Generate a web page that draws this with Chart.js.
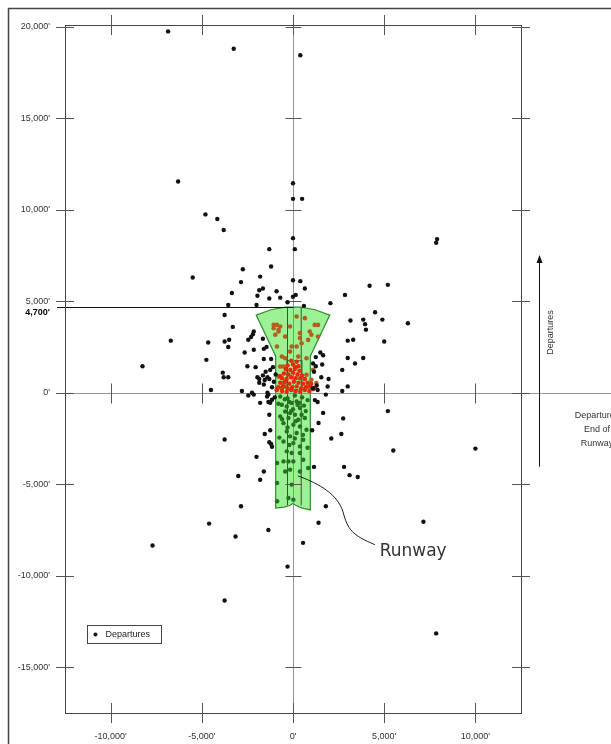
<!DOCTYPE html>
<html>
<head>
<meta charset="utf-8">
<script src="https://cdn.jsdelivr.net/npm/chart.js@4.4.0/dist/chart.umd.min.js"></script>
<style>
html, body { margin: 0; padding: 0; background: #fff; }
canvas { display: block; }
</style>
</head>
<body>
<canvas id="departuresChart" width="611" height="744"></canvas>
<script>
// tick labels (feet)
var xTickValues = [-10000, -5000, 0, 5000, 10000];
var yTickValues = [-15000, -10000, -5000, 0, 5000, 10000, 15000, 20000];
var markerValue = 4700;

// departures (black dots), feet from the runway end
var departuresX = [
    -6850, -3250, 400, -6300, 0, 0, 500, -4800, -4150, -3800,
    0, -1300, 100, -5500, -2750, -1200, -2850, -1800, 0, 400,
    -3350, -1850, -1650, -900, 650, -1950, -1300, -700, -300, 0, 150, 600,
    -3550, -2000, 2050, 2850, 4200, 5200, 7850, 7900,
    -3750, -3300, -6700, -4650, -3750, -3500, -3550,
    -2450, -2300, -2200, -2150, -1650, -1450, -1600, -2150, -2650,
    -1600, -1200, -8250, -4750, -2500, -2050, -3850, -3800, -3550,
    -1950, -1850, -1650, -1550, -1400, -1300, -1850, -1600,
    -4500, -2800, -2450, -2150, -1400, -1350, -1800, -1350, -1250, -1300, -1100, -950,
    4500, 3150, 3850, 3950, 4000, 4900, 6300, 3000, 3300, 5000, 3000, 3850, 3400, 2700,
    1500, 1650, 1250, 1600, 1100, 1550, 1950, 1300, 1350, 2700, 1800, 1350, 1650, 5200, 2750,
    1400, -3750, -1550, -1250, -1300, -1200, -1150, 1050, 2650, 2100, 5500, -2000, -1600, -1800, -3000,
    1150, 2800, 3100, 3550, -2850, 1800, -4600, -3150,
    -1350, 1400, 550, 7150, -7700, -300, -3750, 7850, 10000,
    -2250, -1420, -1150, 1200, 1900, 3000,
    -1250, -1050, -1500, -1150, 1150, 1250, -1000, 1100
];
var departuresY = [
    19750, 18800, 18450, 11550, 11450, 10600, 10600, 9750, 9500, 8900,
    8450, 7850, 7850, 6300, 6750, 6900, 6050, 6350, 6150, 6100,
    5450, 5600, 5700, 5550, 5700, 5300, 5150, 5200, 4950, 5250, 5350, 4750,
    4800, 4800, 4900, 5350, 5850, 5900, 8200, 8400,
    4250, 3600, 2850, 2750, 2800, 2900, 2500,
    2900, 3050, 3200, 3350, 2950, 2500, 2400, 2350, 2200,
    1850, 1850, 1450, 1800, 1450, 1400, 1100, 850, 850,
    850, 750, 950, 700, 850, 750, 550, 450,
    150, 100, -150, -100, 0, -100, -550, -500, -550, -1200, 1400, 1000,
    4400, 3950, 4000, 3750, 3450, 4000, 3800, 2850, 2900, 2800, 1900, 1900, 1600, 1250,
    2200, 2050, 1950, 1550, 1600, 850, 750, 400, 150, 100, -100, -500, -1100, -1000, -1400,
    -1650, -2550, -2250, -2050, -2700, -2800, -2950, -2050, -2250, -2500, -3150, -3500, -4300, -4750, -4550,
    -4050, -4050, -4500, -4600, -6200, -6200, -7150, -7850,
    -7500, -7100, -8200, -7050, -8350, -9500, -11350, -13150, -3050,
    0, -200, -380, -400, 340, 350,
    1250, 600, 1150, 300, 1150, 1450, -250, 250
];

// departures inside the runway zone (dark green)
var zoneDepX = [
    -610, -340, -70, 200, 380, -430, -160, 110, 470, -700, -250, 290, 650, -520, 20, 380, 740,
    -340, 200, -160, 560, -520, 20, 380, -340, -70, 380, -520, -250, 20, 560, -870,
    -430, -160, 380, 830, -870, -70, -250, 20, -870,
    -700, -300, 100, 500, 800, -800, 0, 600, -200, 350, -450, 250, -100, 700,
    -600, 150, -300, 550, -750, 100, 800, -200
];
var zoneDepY = [
    -655, -750, -560, -475, -835, -1020, -1110, -1200, -1200, -1290, -1380, -1470, -1380, -1660, -1750, -1840, -2020,
    -2110, -2200, -2380, -2570, -2660, -2750, -2930, -3200, -3290, -3290, -3750, -3750, -3750, -3660, -3840,
    -4300, -4200, -4300, -4110, -4930, -5020, -5750, -5840, -5930,
    -200, -300, -150, -250, -400, -600, -900, -700, -500, -550, -350, -650, -1000, -1000,
    -1450, -1550, -1900, -2300, -2450, -2500, -3000, -2850
];

// departures near the runway end (red)
var endDepX = [
    -100, 200, -300, 0, 300, 150, -400, -150, 100, 350,
    -500, -250, 0, 250, 500, -600, -350, -100, 150, 400, 650,
    -700, -450, -200, 50, 300, 550, 800,
    -800, -550, -300, -50, 200, 450, 700, 950,
    -600, -350, -100, 150, 400, 650, 900, 1100, -900, 1000, -700
];
var endDepY = [
    1750, 1700, 1500, 1550, 1450, 1400, 1300, 1250, 1300, 1200,
    1050, 1000, 1100, 1000, 950, 800, 750, 850, 800, 800, 750,
    550, 600, 500, 600, 550, 500, 550,
    300, 350, 250, 300, 350, 250, 300, 350,
    100, 50, 150, 100, 50, 150, 100, 200, 150, 500, 900
];

// departures in the flared zone (brown)
var wedgeDepX = [
    -1060, -790, -700, -970, -430, 200, 650, 380, 920, 1190, 1370, 830, 200, 470,
    -160, -430, -700, -790, -520, -610, 1100, 1010, 740, 830, 1190,
    -160, -70, 380, 1370, 1010, 290, 740, 1280,
    -1060, -790, -880, -880, -610, -520, -700, -430, -880
];
var wedgeDepY = [
    3710, 3350, 3620, 3170, 3070, 4170, 4080, 3260, 3350, 3710, 3070, 2890, 2530, 2710,
    2250, 1890, 1440, 890, 530, 260, 1260, 710, 980, 340, 260,
    3620, 2530, 2990, 3710, 3170, 1980, 1890, 530,
    3530, 3440, 3710, 2530, 1980, 1440, 890, 340, 170
];

// runway protection zone outline
var zoneX = [-950, -950, -2017, -1216, -410, 410, 1216, 2017, 950, 950, 500, 150, 0, -150, -500];
var zoneY = [-6300, 2000, 4246, 4540, 4682, 4682, 4540, 4246, 2000, -6400, -6300, -6150, -6050, -6150, -6250];
var runwayLinesX = [-300, 450];
var runwayBoxX = [-330, 490];
var runwayBoxY = [160, 1750];

function pts(xs, ys) {
    return xs.map(function (x, i) { return { x: x, y: ys[i] }; });
}

function fmtFeet(value) {
    return Number(value).toLocaleString('en-US') + "'";
}

Chart.defaults.font.family = "'Liberation Sans', Arial, sans-serif";

var overlayPlugin = {
    id: 'overlay',
    beforeDraw: function (chart) {
        var c = chart.ctx;
        c.save();
        c.fillStyle = '#fff';
        c.fillRect(0, 0, chart.width, chart.height);
        c.strokeStyle = '#444';
        c.lineWidth = 1.5;
        c.beginPath();
        c.moveTo(8.5, chart.height + 2);
        c.lineTo(8.5, 8.5);
        c.lineTo(chart.width + 2, 8.5);
        c.stroke();
        c.restore();
    },
    beforeDatasetsDraw: function (chart) {
        var c = chart.ctx, xs = chart.scales.x, ys = chart.scales.y, a = chart.chartArea;
        var x0 = Math.round(xs.getPixelForValue(0)) + 0.5;
        var y0 = Math.round(ys.getPixelForValue(0)) + 0.5;
        c.save();

        // green zone
        c.beginPath();
        zoneX.forEach(function (v, i) {
            var px = xs.getPixelForValue(v), py = ys.getPixelForValue(zoneY[i]);
            if (i === 0) c.moveTo(px, py); else c.lineTo(px, py);
        });
        c.closePath();
        c.fillStyle = 'rgba(140, 238, 130, 0.85)';
        c.fill();
        c.strokeStyle = '#2f8f2f';
        c.lineWidth = 1.2;
        c.stroke();

        // runway lines inside the zone
        c.strokeStyle = '#2c5a2c';
        c.lineWidth = 1;
        c.beginPath();
        runwayLinesX.forEach(function (v) {
            var px = xs.getPixelForValue(v);
            c.moveTo(px, ys.getPixelForValue(4682));
            c.lineTo(px, ys.getPixelForValue(-6150));
        });
        c.stroke();
        var bx = xs.getPixelForValue(runwayBoxX[0]), by = ys.getPixelForValue(runwayBoxY[1]);
        c.strokeRect(bx, by, xs.getPixelForValue(runwayBoxX[1]) - bx, ys.getPixelForValue(runwayBoxY[0]) - by);

        // zero lines
        c.strokeStyle = 'rgba(130, 130, 130, 0.85)';
        c.beginPath();
        c.moveTo(x0, a.top);
        c.lineTo(x0, a.bottom);
        c.moveTo(a.left, y0);
        c.lineTo(chart.width, y0);
        c.stroke();

        // 4,700' marker line and label
        var y47 = Math.round(ys.getPixelForValue(markerValue)) + 0.5;
        c.strokeStyle = '#111';
        c.lineWidth = 1.2;
        c.beginPath();
        c.moveTo(a.left - 8, y47);
        c.lineTo(x0, y47);
        c.stroke();
        c.fillStyle = '#000';
        c.font = "bold 9px 'Liberation Sans', Arial, sans-serif";
        c.textAlign = 'right';
        c.textBaseline = 'middle';
        c.fillText(fmtFeet(markerValue), a.left - 15, y47 + 5);

        // plot frame
        c.strokeStyle = '#444';
        c.lineWidth = 1;
        c.strokeRect(Math.round(a.left) + 0.5, Math.round(a.top) + 0.5, Math.round(a.right - a.left), Math.round(a.bottom - a.top));

        // tick crosses
        c.strokeStyle = '#555';
        c.beginPath();
        ys.ticks.forEach(function (t) {
            var py = Math.round(ys.getPixelForValue(t.value)) + 0.5;
            [a.left, a.right].forEach(function (px) { c.moveTo(px - 9, py); c.lineTo(px + 9, py); });
            if (t.value !== 0) { c.moveTo(x0 - 8, py); c.lineTo(x0 + 8, py); }
        });
        xs.ticks.forEach(function (t) {
            var px = Math.round(xs.getPixelForValue(t.value)) + 0.5;
            [a.top, a.bottom].forEach(function (py) { c.moveTo(px, py - 10); c.lineTo(px, py + 10); });
            if (t.value !== 0) { c.moveTo(px, y0 - 10); c.lineTo(px, y0 + 10); }
        });
        c.stroke();
        c.restore();
    },
    afterDraw: function (chart) {
        var c = chart.ctx, xs = chart.scales.x, ys = chart.scales.y, a = chart.chartArea;
        c.save();

        // "Runway" callout
        c.strokeStyle = '#222';
        c.lineWidth = 1;
        c.beginPath();
        c.moveTo(xs.getPixelForValue(270), ys.getPixelForValue(-4540));
        c.bezierCurveTo(xs.getPixelForValue(1480), ys.getPixelForValue(-4980),
            xs.getPixelForValue(2470), ys.getPixelForValue(-5580),
            xs.getPixelForValue(2740), ys.getPixelForValue(-6510));
        c.bezierCurveTo(xs.getPixelForValue(3010), ys.getPixelForValue(-7490),
            xs.getPixelForValue(3230), ys.getPixelForValue(-7770),
            xs.getPixelForValue(4490), ys.getPixelForValue(-8300));
        c.stroke();
        c.fillStyle = '#333';
        c.font = "17px 'DejaVu Sans', sans-serif";
        c.textAlign = 'left';
        c.textBaseline = 'middle';
        c.fillText('Runway', xs.getPixelForValue(4750), ys.getPixelForValue(-8700));

        // departures direction arrow
        var ax = a.right + 18.5;
        var top = ys.getPixelForValue(7530), bot = ys.getPixelForValue(-4040);
        c.strokeStyle = '#111';
        c.beginPath();
        c.moveTo(ax, bot);
        c.lineTo(ax, top + 6);
        c.stroke();
        c.fillStyle = '#111';
        c.beginPath();
        c.moveTo(ax, top);
        c.lineTo(ax - 3, top + 8);
        c.lineTo(ax + 3, top + 8);
        c.closePath();
        c.fill();

        c.font = "9px 'Liberation Sans', Arial, sans-serif";
        c.fillStyle = '#333';
        c.save();
        c.translate(a.right + 30, ys.getPixelForValue(3300));
        c.rotate(-Math.PI / 2);
        c.textAlign = 'center';
        c.fillText('Departures', 0, 0);
        c.restore();

        c.textAlign = 'center';
        var y0 = ys.getPixelForValue(0);
        ['Departures', 'End of', 'Runway'].forEach(function (s, i) {
            c.fillText(s, a.right + 76, y0 + 23 + i * 14);
        });

        // legend box
        var lx = a.left + 22.5, ly = a.bottom - 87.5;
        c.fillStyle = '#fff';
        c.fillRect(lx, ly, 74, 18);
        c.strokeStyle = '#444';
        c.strokeRect(lx, ly, 74, 18);
        c.fillStyle = '#111';
        c.beginPath();
        c.arc(lx + 8, ly + 9, 2, 0, Math.PI * 2);
        c.fill();
        c.fillStyle = '#222';
        c.textAlign = 'left';
        c.fillText(chart.data.datasets[0].label, lx + 18, ly + 9.5);
        c.restore();
    }
};

new Chart(document.getElementById('departuresChart'), {
    type: 'scatter',
    data: {
        datasets: [{
            label: 'Departures',
            data: pts(departuresX, departuresY),
            backgroundColor: '#111',
            pointRadius: 2.2,
            borderWidth: 0
        }, {
            label: 'Near runway end',
            data: pts(endDepX, endDepY),
            backgroundColor: '#e8280c',
            pointRadius: 2.2,
            borderWidth: 0
        }, {
            label: 'Flared zone',
            data: pts(wedgeDepX, wedgeDepY),
            backgroundColor: '#b0611e',
            pointRadius: 2.3,
            borderWidth: 0
        }, {
            label: 'Runway zone',
            data: pts(zoneDepX, zoneDepY),
            backgroundColor: '#23731f',
            pointRadius: 2.2,
            borderWidth: 0
        }]
    },
    options: {
        responsive: false,
        animation: false,
        layout: { padding: { top: 25, right: 90, left: 0, bottom: 0 } },
        plugins: {
            legend: { display: false },
            tooltip: { enabled: false }
        },
        scales: {
            x: {
                type: 'linear',
                min: -12500,
                max: 12500,
                afterBuildTicks: function (scale) {
                    scale.ticks = xTickValues.map(function (v) { return { value: v }; });
                },
                afterFit: function (scale) { scale.height = 31; },
                grid: { display: false, drawTicks: false },
                border: { display: false },
                ticks: {
                    padding: 18,
                    autoSkip: false,
                    maxRotation: 0,
                    color: '#333',
                    font: { size: 9 },
                    callback: fmtFeet
                }
            },
            y: {
                type: 'linear',
                min: -17500,
                max: 20100,
                afterBuildTicks: function (scale) {
                    scale.ticks = yTickValues.map(function (v) { return { value: v }; });
                },
                afterFit: function (scale) { scale.width = 65; },
                grid: { display: false, drawTicks: false },
                border: { display: false },
                ticks: {
                    padding: 15,
                    autoSkip: false,
                    color: '#333',
                    font: { size: 9 },
                    callback: fmtFeet
                }
            }
        }
    },
    plugins: [overlayPlugin]
});
</script>
</body>
</html>
